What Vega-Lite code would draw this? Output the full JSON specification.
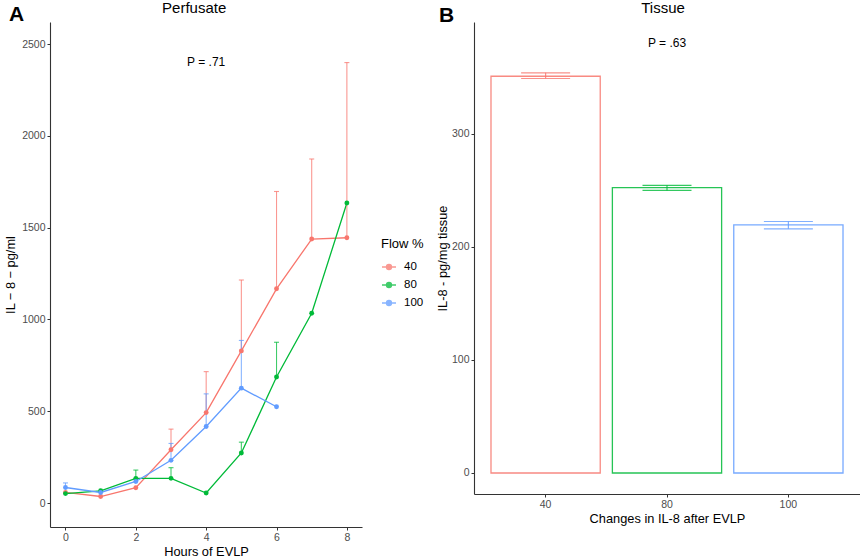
{
  "$schema": "https://vega.github.io/schema/vega-lite/v6.json",
  "background": "white",
  "padding": {"left": 4, "top": 0, "right": 0, "bottom": 0},
  "config": {
    "font": "Liberation Sans",
    "view": {"stroke": null},
    "axis": {
      "grid": false,
      "domainColor": "#333333",
      "domainWidth": 1.1,
      "tickColor": "#333333",
      "tickSize": 3,
      "labelColor": "#4D4D4D",
      "labelFontSize": 10.5,
      "labelPadding": 2,
      "format": "d",
      "titleFontSize": 12.8,
      "titleFontWeight": "normal",
      "titleColor": "#000000"
    },
    "text": {"color": "#000000"},
    "concat": {"spacing": 12}
  },
  "datasets": {
    "perfusate": [
      {"hour": 0, "flow": "40", "il8": 58, "upper": null},
      {"hour": 1, "flow": "40", "il8": 36, "upper": null},
      {"hour": 2, "flow": "40", "il8": 84, "upper": null},
      {"hour": 3, "flow": "40", "il8": 291, "upper": 403},
      {"hour": 4, "flow": "40", "il8": 493, "upper": 716},
      {"hour": 5, "flow": "40", "il8": 829, "upper": 1215},
      {"hour": 6, "flow": "40", "il8": 1167, "upper": 1697},
      {"hour": 7, "flow": "40", "il8": 1438, "upper": 1874},
      {"hour": 8, "flow": "40", "il8": 1445, "upper": 2399},
      {"hour": 0, "flow": "80", "il8": 52, "upper": null},
      {"hour": 1, "flow": "80", "il8": 67, "upper": null},
      {"hour": 2, "flow": "80", "il8": 135, "upper": 180},
      {"hour": 3, "flow": "80", "il8": 135, "upper": 193},
      {"hour": 4, "flow": "80", "il8": 55, "upper": null},
      {"hour": 5, "flow": "80", "il8": 273, "upper": 332},
      {"hour": 6, "flow": "80", "il8": 687, "upper": 876},
      {"hour": 7, "flow": "80", "il8": 1034, "upper": null},
      {"hour": 8, "flow": "80", "il8": 1634, "upper": null},
      {"hour": 0, "flow": "100", "il8": 85, "upper": 110},
      {"hour": 1, "flow": "100", "il8": 58, "upper": null},
      {"hour": 2, "flow": "100", "il8": 118, "upper": null},
      {"hour": 3, "flow": "100", "il8": 233, "upper": 325},
      {"hour": 4, "flow": "100", "il8": 417, "upper": 595},
      {"hour": 5, "flow": "100", "il8": 626, "upper": 886},
      {"hour": 6, "flow": "100", "il8": 525, "upper": null}
    ],
    "tissue": [
      {"flow": "40", "mean": 351, "lo": 349, "hi": 354},
      {"flow": "80", "mean": 252.5, "lo": 250, "hi": 254.5},
      {"flow": "100", "mean": 219.5, "lo": 216, "hi": 222.5}
    ]
  },
  "hconcat": [
    {
      "width": 312,
      "height": 505,
      "data": {"name": "perfusate"},
      "encoding": {
        "x": {
          "field": "hour",
          "type": "quantitative",
          "scale": {"domain": [-0.44, 8.43], "nice": false, "zero": false},
          "axis": {"title": "Hours of EVLP", "values": [0, 2, 4, 6, 8], "titlePadding": 3}
        },
        "color": {
          "field": "flow",
          "type": "nominal",
          "scale": {"domain": ["40", "80", "100"], "range": ["#F8766D", "#00BA38", "#619CFF"]},
          "legend": {
            "title": "Flow %",
            "orient": "none",
            "legendX": 331,
            "legendY": 216,
            "padding": 0,
            "titleFontSize": 13,
            "titleFontWeight": "normal",
            "titleColor": "#000000",
            "titlePadding": 8,
            "labelFontSize": 11.5,
            "labelColor": "#000000",
            "labelOffset": 7,
            "rowPadding": 4,
            "symbolType": "M-1,0L1,0M0.36,0A0.36,0.36,0,1,1,-0.36,0A0.36,0.36,0,1,1,0.36,0Z",
            "symbolSize": 196,
            "symbolStrokeWidth": 1.3
          }
        }
      },
      "layer": [
        {
          "mark": {"type": "line", "strokeWidth": 1.3},
          "encoding": {
            "y": {
              "field": "il8",
              "type": "quantitative",
              "scale": {"domain": [-130, 2620], "nice": false, "zero": false},
              "axis": {"title": "IL − 8 − pg/ml", "values": [0, 500, 1000, 1500, 2000, 2500], "titlePadding": 4}
            }
          }
        },
        {
          "transform": [{"filter": "datum.upper != null"}],
          "mark": {"type": "rule", "strokeWidth": 1.1, "opacity": 0.75},
          "encoding": {
            "y": {"field": "il8", "type": "quantitative"},
            "y2": {"field": "upper"}
          }
        },
        {
          "transform": [{"filter": "datum.upper != null"}],
          "mark": {"type": "tick", "orient": "horizontal", "size": 5, "thickness": 1.1, "opacity": 0.75},
          "encoding": {
            "y": {"field": "upper", "type": "quantitative"}
          }
        },
        {
          "mark": {"type": "point", "filled": true, "size": 24, "opacity": 1},
          "encoding": {
            "y": {"field": "il8", "type": "quantitative"}
          }
        },
        {
          "data": {"values": [
            {"hour": 4, "il8": 2400, "label": "P = .71", "kind": "p"},
            {"hour": 3.66, "il8": 2697, "label": "Perfusate", "kind": "title"}
          ]},
          "mark": {"type": "text", "clip": false},
          "encoding": {
            "y": {"field": "il8", "type": "quantitative"},
            "text": {"field": "label"},
            "size": {"field": "kind", "type": "nominal", "scale": {"domain": ["p", "title"], "range": [12, 15]}, "legend": null},
            "color": {"value": "#000000"}
          }
        },
        {
          "data": {"values": [{"hour": -1.39, "il8": 2656, "label": "A"}]},
          "mark": {"type": "text", "fontSize": 21, "fontWeight": "bold", "clip": false},
          "encoding": {
            "y": {"field": "il8", "type": "quantitative"},
            "text": {"field": "label"},
            "color": {"value": "#000000"}
          }
        }
      ]
    },
    {
      "width": 386,
      "height": 472,
      "data": {"name": "tissue"},
      "encoding": {
        "x": {
          "field": "flow",
          "type": "nominal",
          "sort": ["40", "80", "100"],
          "scale": {"paddingInner": 0.1, "paddingOuter": 0.14},
          "axis": {"title": "Changes in IL-8 after EVLP", "labelAngle": 0, "titlePadding": 3}
        },
        "color": {
          "field": "flow",
          "type": "nominal",
          "scale": {"domain": ["40", "80", "100"], "range": ["#F8766D", "#00BA38", "#619CFF"]},
          "legend": null
        }
      },
      "layer": [
        {
          "mark": {"type": "bar", "filled": false, "strokeWidth": 1.3, "opacity": 0.85},
          "encoding": {
            "y": {
              "field": "mean",
              "type": "quantitative",
              "scale": {"domain": [-18.6, 399], "nice": false, "zero": false},
              "axis": {"title": "IL-8 - pg/mg tissue", "values": [0, 100, 200, 300], "titlePadding": 2}
            }
          }
        },
        {
          "mark": {"type": "rule", "strokeWidth": 1.2, "opacity": 0.8},
          "encoding": {
            "y": {"field": "lo", "type": "quantitative"},
            "y2": {"field": "hi"}
          }
        },
        {
          "mark": {"type": "tick", "size": 49, "thickness": 1.2, "opacity": 0.8},
          "encoding": {
            "y": {"field": "lo", "type": "quantitative"}
          }
        },
        {
          "mark": {"type": "tick", "size": 49, "thickness": 1.2, "opacity": 0.8},
          "encoding": {
            "y": {"field": "hi", "type": "quantitative"}
          }
        },
        {
          "data": {"values": [{"flow": "80", "mean": 380, "label": "P = .63"}]},
          "mark": {"type": "text", "fontSize": 12},
          "encoding": {
            "y": {"field": "mean", "type": "quantitative"},
            "text": {"field": "label"},
            "color": {"value": "#000000"}
          }
        },
        {
          "data": {"values": [{"flow": "80", "mean": 411, "label": "Tissue"}]},
          "mark": {"type": "text", "fontSize": 15, "dx": -4, "clip": false},
          "encoding": {
            "y": {"field": "mean", "type": "quantitative"},
            "text": {"field": "label"},
            "color": {"value": "#000000"}
          }
        },
        {
          "data": {"values": [{"flow": "40", "mean": 404, "label": "B"}]},
          "mark": {"type": "text", "fontSize": 21, "fontWeight": "bold", "dx": -99, "clip": false},
          "encoding": {
            "y": {"field": "mean", "type": "quantitative"},
            "text": {"field": "label"},
            "color": {"value": "#000000"}
          }
        }
      ]
    }
  ],
  "resolve": {"scale": {"color": "independent", "x": "independent", "y": "independent", "size": "independent"}}
}
